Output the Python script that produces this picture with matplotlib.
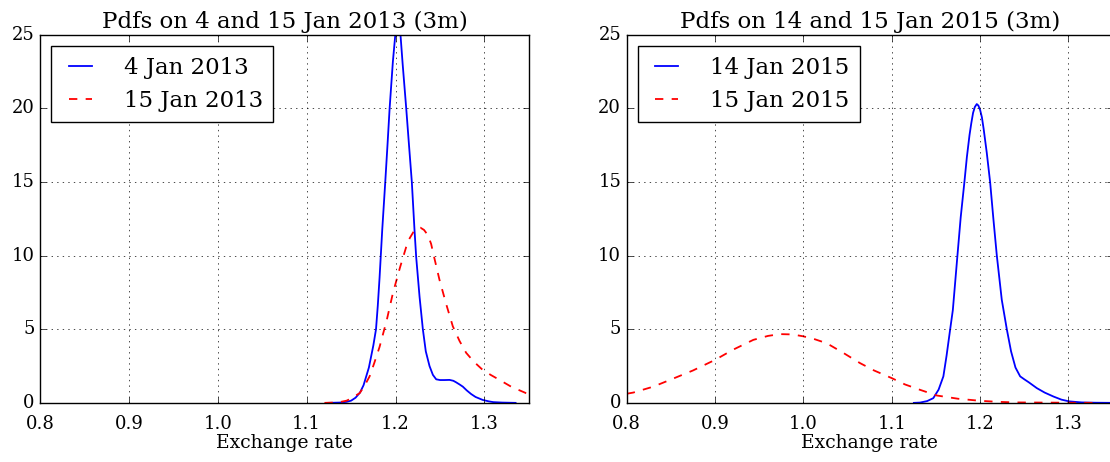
import numpy as np
import matplotlib
matplotlib.use('Agg')
import matplotlib.pyplot as plt

# values
x_4jan13 = [1.125, 1.137, 1.145, 1.15, 1.155, 1.16, 1.164, 1.167, 1.17, 1.172, 1.175, 1.178,
            1.18, 1.182, 1.185, 1.1884, 1.191, 1.1933, 1.197, 1.2, 1.2025, 1.2053, 1.208,
            1.21, 1.212, 1.215, 1.2183, 1.2213, 1.2232, 1.227, 1.2307, 1.234, 1.2382,
            1.242, 1.2457, 1.25, 1.255, 1.2607, 1.265, 1.268, 1.272, 1.2757, 1.28,
            1.285, 1.29, 1.298, 1.305, 1.31, 1.32, 1.335]
y_4jan13 = [0.0, 0.02, 0.07, 0.15, 0.35, 0.7, 1.2, 1.8, 2.4, 3.0, 3.9, 5.0,
            6.6, 8.5, 11.75, 15.0, 17.6, 20.0, 23.2, 25.2, 26.0, 25.2, 23.0,
            21.5, 20.0, 17.6, 15.0, 11.75, 9.9, 7.2, 5.0, 3.5, 2.5,
            1.9, 1.6, 1.55, 1.55, 1.56, 1.5, 1.4, 1.25, 1.1, 0.85,
            0.6, 0.4, 0.2, 0.1, 0.05, 0.02, 0.0]

x_15jan13 = [1.12, 1.13, 1.137, 1.145, 1.15, 1.1596, 1.165, 1.1708, 1.176, 1.182, 1.19,
             1.197, 1.205, 1.212, 1.216, 1.22, 1.224, 1.228, 1.232, 1.2363, 1.24,
             1.243, 1.2494, 1.257, 1.2644, 1.272, 1.2794, 1.288, 1.298,
             1.307, 1.3169, 1.33, 1.3468, 1.35]
y_15jan13 = [0.0, 0.02, 0.05, 0.15, 0.3, 0.66, 1.15, 1.8, 2.7, 3.8, 5.6,
             7.45, 9.2, 10.6, 11.2, 11.6, 11.85, 11.9, 11.75, 11.4, 10.8,
             10.0, 8.36, 6.7, 5.2, 4.2, 3.4, 2.8, 2.24,
             1.9, 1.56, 1.1, 0.66, 0.6]

x_14jan15 = [1.125, 1.132, 1.14, 1.147, 1.153, 1.1584, 1.162, 1.166, 1.1691, 1.1743, 1.178,
             1.1822, 1.185, 1.188, 1.19, 1.192, 1.194, 1.1962, 1.198, 1.2, 1.202, 1.204,
             1.2075, 1.2113, 1.215, 1.2189, 1.2245, 1.2302, 1.235, 1.24, 1.2453, 1.25,
             1.255, 1.2642, 1.273, 1.283, 1.292, 1.3008, 1.315, 1.33, 1.35]
y_14jan15 = [0.0, 0.02, 0.12, 0.32, 0.9, 1.8, 3.2, 4.96, 6.3, 10.0, 12.6,
             15.0, 16.7, 18.2, 19.0, 19.7, 20.1, 20.3, 20.2, 19.9, 19.4, 18.6,
             17.0, 15.0, 12.5, 10.0, 7.0, 5.0, 3.5, 2.4, 1.8, 1.6,
             1.4, 1.0, 0.7, 0.43, 0.22, 0.1, 0.03, 0.01, 0.0]

x_15jan15 = [0.8, 0.8075, 0.83, 0.849, 0.875, 0.9, 0.92, 0.9433, 0.96, 0.9736, 0.9875,
             0.9999, 1.013, 1.0264, 1.045, 1.0641, 1.08, 1.1, 1.115, 1.1323, 1.151, 1.175,
             1.2, 1.22, 1.24, 1.27, 1.3, 1.33]
y_15jan15 = [0.62, 0.7, 1.1, 1.56, 2.2, 2.92, 3.6, 4.28, 4.55, 4.67, 4.65,
             4.52, 4.32, 4.05, 3.4, 2.7, 2.2, 1.68, 1.25, 0.88, 0.5, 0.28,
             0.14, 0.07, 0.03, 0.02, 0.01, 0.0]

titles = ['Pdfs on 4 and 15 Jan 2013 (3m)', 'Pdfs on 14 and 15 Jan 2015 (3m)']
labels = [('4 Jan 2013', '15 Jan 2013'), ('14 Jan 2015', '15 Jan 2015')]
xticks = [0.8, 0.9, 1.0, 1.1, 1.2, 1.3]
yticks = [0, 5, 10, 15, 20, 25]

plt.style.use('classic')
plt.rcParams['font.family'] = 'DejaVu Serif'
plt.rcParams['figure.facecolor'] = 'white'
plt.rcParams['savefig.facecolor'] = 'white'
plt.rcParams['font.size'] = 14

fig = plt.figure(figsize=(11.1, 4.62), dpi=100)
ax1 = fig.add_axes([0.036, 0.128, 0.4405, 0.7965])
ax2 = fig.add_axes([0.5646, 0.128, 0.4378, 0.7965])

data = [((x_4jan13, y_4jan13), (x_15jan13, y_15jan13)),
        ((x_14jan15, y_14jan15), (x_15jan15, y_15jan15))]

for ax, (solid, dashed), title, (lab1, lab2) in zip([ax1, ax2], data, titles, labels):
    ax.plot(solid[0], solid[1], 'b-', lw=1.3, label=lab1)
    ax.plot(dashed[0], dashed[1], 'r--', lw=1.3, label=lab2)
    ax.set_xlim(0.8, 1.35)
    ax.set_ylim(0, 25)
    ax.set_xticks(xticks)
    ax.set_yticks(yticks)
    ax.tick_params(labelsize=13)
    ax.tick_params(axis='x', pad=9)
    ax.grid(True, color='k', linestyle=':')
    ax.set_title(title, fontsize=16.5)
    ax.set_xlabel('Exchange rate', fontsize=13.5, labelpad=0.5)
    leg = ax.legend(loc='upper left', fontsize=16.5, fancybox=False,
                    handlelength=1.6, handletextpad=1.1, borderpad=0.45)
    leg.get_frame().set_edgecolor('k')

fig.savefig('out.png', dpi=100)
